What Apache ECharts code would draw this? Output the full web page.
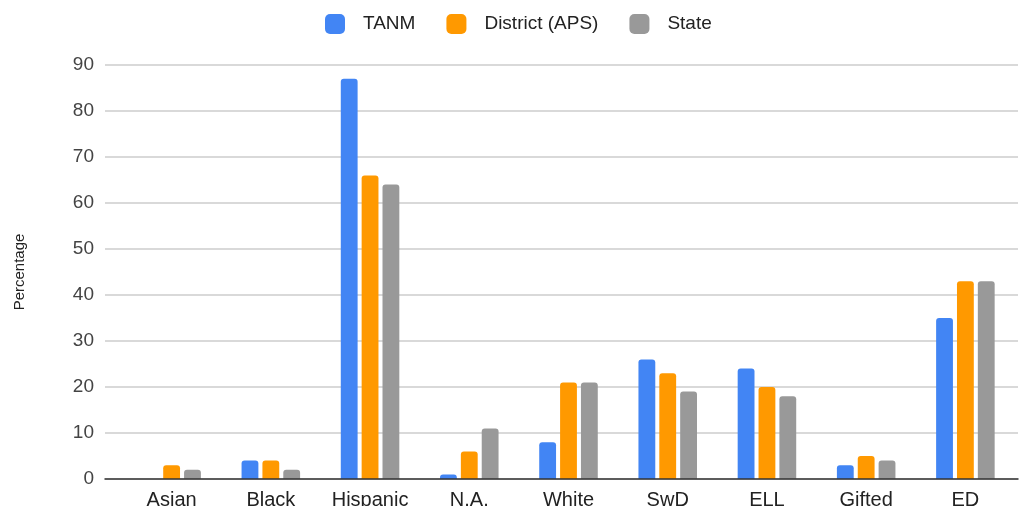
<!DOCTYPE html>
<html>
<head>
<meta charset="utf-8">
<script src="https://cdn.jsdelivr.net/npm/echarts@6/dist/echarts.min.js"></script>
<style>
html,body{margin:0;padding:0;background:#fff;}
#chart{width:1019px;height:506px;}
</style>
</head>
<body>
<div id="chart"></div>
<script>
const categories = ["Asian", "Black", "Hispanic", "N.A.", "White", "SwD", "ELL", "Gifted", "ED"];
const seriesNames = ["TANM", "District (APS)", "State"];
const tanm = [0, 4, 87, 1, 8, 26, 24, 3, 35];
const district = [3, 4, 66, 6, 21, 23, 20, 5, 43];
const state = [2, 2, 64, 11, 21, 19, 18, 4, 43];
const yTicks = { min: 0, max: 90, interval: 10 };
const colors = ["#4285F4", "#FF9900", "#999999"];

const FONT = "'Liberation Sans', Arial, sans-serif";
const chart = echarts.init(document.getElementById('chart'), null, { renderer: 'canvas' });

const values = [tanm, district, state];
const series = seriesNames.map((name, i) => ({
  name: name,
  type: 'bar',
  xAxisIndex: 1,
  yAxisIndex: 1,
  data: values[i],
  barGap: '24%',
  barCategoryGap: '41%',
  itemStyle: { color: colors[i], borderRadius: [3, 3, 0, 0] },
  emphasis: { disabled: true }
}));

chart.setOption({
  animation: false,
  color: colors,
  textStyle: { fontFamily: FONT },
  legend: {
    top: 9,
    left: 320,
    itemWidth: 20,
    itemHeight: 20,
    itemGap: 31,
    icon: 'roundRect',
    textStyle: { fontSize: 19, color: '#222', fontFamily: FONT, padding: [0, 0, 0, 13] },
    data: seriesNames
  },
  grid: [
    { left: 105, right: 1, top: 65, bottom: 27, containLabel: false, outerBoundsMode: 'none' },
    { left: 122, right: 4, top: 65, bottom: 27, containLabel: false, outerBoundsMode: 'none' }
  ],
  xAxis: [
    {
      type: 'category', gridIndex: 0, data: categories,
      axisLabel: { show: false }, axisTick: { show: false },
      axisLine: { show: true, lineStyle: { color: '#333', width: 1.5 } }, z: 5
    },
    {
      type: 'category', gridIndex: 1, data: categories,
      axisLine: { show: false }, axisTick: { show: false },
      axisLabel: { fontSize: 20, color: '#222', margin: 11, interval: 0, fontFamily: FONT }
    }
  ],
  yAxis: [
    {
      type: 'value', gridIndex: 0, min: yTicks.min, max: yTicks.max, interval: yTicks.interval,
      name: 'Percentage', nameLocation: 'middle', nameGap: 78, nameRotate: 90,
      nameTextStyle: { fontSize: 15, color: '#222', fontFamily: FONT },
      axisLine: { show: false }, axisTick: { show: false },
      axisLabel: { fontSize: 19, color: '#444', margin: 11, fontFamily: FONT },
      splitLine: { lineStyle: { color: '#cccccc', width: 1.5 } }
    },
    {
      type: 'value', gridIndex: 1, min: yTicks.min, max: yTicks.max, interval: yTicks.interval,
      show: false, splitLine: { show: false }
    }
  ],
  series: series
});
</script>
</body>
</html>
